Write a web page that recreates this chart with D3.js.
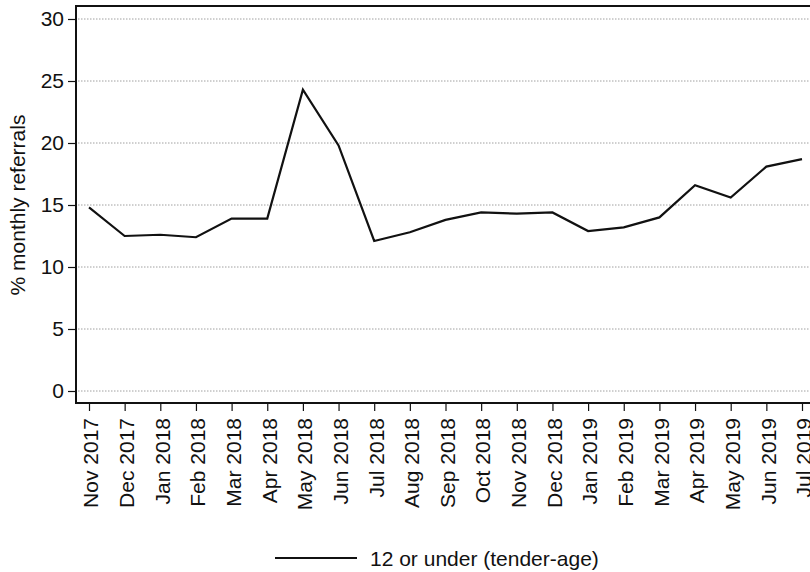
<!DOCTYPE html>
<html>
<head>
<meta charset="utf-8">
<script src="https://cdn.jsdelivr.net/npm/d3@7"></script>
<style>
  html, body { margin: 0; padding: 0; background: #fff; }
  svg { display: block; font-family: "Liberation Sans", Arial, Helvetica, sans-serif; }
</style>
</head>
<body>
<svg id="chart" width="810" height="572"></svg>
<script>
// Monthly share of referrals for children aged 12 or under
const months = [
  "Nov 2017", "Dec 2017", "Jan 2018", "Feb 2018", "Mar 2018", "Apr 2018",
  "May 2018", "Jun 2018", "Jul 2018", "Aug 2018", "Sep 2018", "Oct 2018",
  "Nov 2018", "Dec 2018", "Jan 2019", "Feb 2019", "Mar 2019", "Apr 2019",
  "May 2019", "Jun 2019", "Jul 2019"
];
const tenderAge = [
  14.8, 12.5, 12.6, 12.4, 13.9, 13.9,
  24.3, 19.8, 12.1, 12.8, 13.8, 14.4,
  14.3, 14.4, 12.9, 13.2, 14.0, 16.6,
  15.6, 18.1, 18.7
];
const yTicks = [0, 5, 10, 15, 20, 25, 30];
const seriesName = "12 or under (tender-age)";
const yTitle = "% monthly referrals";

const svg = d3.select("#chart");

// Plot region (the right edge runs past the canvas)
const plot = { left: 76, top: 6, right: 815, bottom: 403 };
const pad = 13;
const fontSize = 21;

const x = d3.scalePoint()
  .domain(months)
  .range([plot.left + pad, plot.right - pad]);

const y = d3.scaleLinear()
  .domain([0, 30])
  .range([plot.bottom - 12, plot.top + 13]);

// Dotted horizontal grid lines
svg.append("g")
  .selectAll("line")
  .data(yTicks)
  .join("line")
  .attr("x1", plot.left + 2)
  .attr("x2", plot.right)
  .attr("y1", d => y(d))
  .attr("y2", d => y(d))
  .attr("stroke", "#a0a0a0")
  .attr("stroke-width", 1)
  .attr("stroke-dasharray", "1.5,1.5");

// Top border of the plot region
svg.append("line")
  .attr("x1", plot.left)
  .attr("x2", plot.right)
  .attr("y1", plot.top)
  .attr("y2", plot.top)
  .attr("stroke", "#111")
  .attr("stroke-width", 2);

// Y axis
const yAxis = svg.append("g")
  .attr("transform", `translate(${plot.left},0)`)
  .call(d3.axisLeft(y).tickValues(yTicks).tickSize(8).tickPadding(4).tickSizeOuter(0));
yAxis.select(".domain").remove();
yAxis.append("line")
  .attr("x1", 0).attr("x2", 0)
  .attr("y1", plot.top - 1).attr("y2", plot.bottom + 1)
  .attr("stroke", "#111").attr("stroke-width", 2);
yAxis.selectAll(".tick line").attr("stroke", "#111").attr("stroke-width", 1.2);
yAxis.selectAll(".tick text")
  .attr("fill", "#111")
  .style("font-size", fontSize + "px")
  .style("font-family", "'Liberation Sans', Arial, sans-serif");

// X axis with vertical month labels
const xAxis = svg.append("g")
  .attr("transform", `translate(0,${plot.bottom})`)
  .call(d3.axisBottom(x).tickSize(8).tickSizeOuter(0));
xAxis.select(".domain").remove();
xAxis.append("line")
  .attr("x1", plot.left - 1).attr("x2", plot.right)
  .attr("y1", 0).attr("y2", 0)
  .attr("stroke", "#111").attr("stroke-width", 2);
xAxis.selectAll(".tick line").attr("stroke", "#111").attr("stroke-width", 1.2);
xAxis.selectAll(".tick text")
  .attr("fill", "#111")
  .style("font-size", fontSize + "px")
  .style("font-family", "'Liberation Sans', Arial, sans-serif")
  .attr("text-anchor", "end")
  .attr("transform", "translate(0,15) rotate(-90)")
  .attr("x", 0)
  .attr("y", 0)
  .attr("dy", "0.42em");

// Y axis title
svg.append("text")
  .attr("transform", `translate(25,${(y(0) + y(30)) / 2}) rotate(-90)`)
  .attr("text-anchor", "middle")
  .attr("fill", "#111")
  .style("font-size", fontSize + "px")
  .text(yTitle);

// Series line
const line = d3.line()
  .x((d, i) => x(months[i]))
  .y(d => y(d));

svg.append("path")
  .datum(tenderAge)
  .attr("d", line)
  .attr("fill", "none")
  .attr("stroke", "#111")
  .attr("stroke-width", 2.2)
  .attr("stroke-linejoin", "miter");

// Legend
const legend = svg.append("g").attr("transform", "translate(275,558)");
legend.append("line")
  .attr("x1", 0).attr("x2", 82)
  .attr("y1", 0).attr("y2", 0)
  .attr("stroke", "#111").attr("stroke-width", 2.2);
legend.append("text")
  .attr("x", 95)
  .attr("y", 0)
  .attr("dy", "0.36em")
  .attr("fill", "#111")
  .style("font-size", "21px")
  .text(seriesName);
</script>
</body>
</html>
